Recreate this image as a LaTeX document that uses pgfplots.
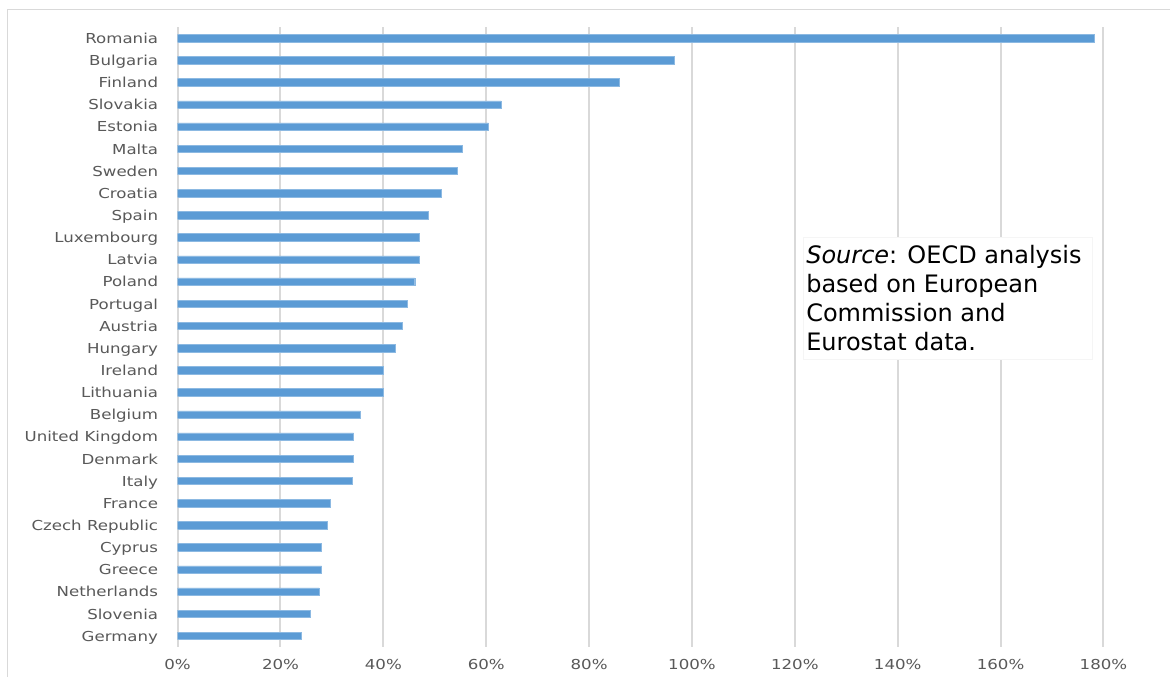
\documentclass[border=0pt]{standalone}
\usepackage{fontspec}
\usepackage{pgfplots}
\usepackage{pgfplotstable}
\pgfplotsset{compat=1.18}
\newfontfamily\lab[FakeStretch=1.21]{DejaVu Sans}
\newfontfamily\src{DejaVu Sans}
\definecolor{barblue}{HTML}{5B9BD5}
\definecolor{gridgray}{HTML}{D9D9D9}
\definecolor{txtgray}{HTML}{595959}
\pgfplotstableread{
y v
0 24.1
1 25.7
2 27.5
3 28.0
4 28.0
5 29.0
6 29.7
7 34.0
8 34.2
9 34.2
10 35.5
11 39.9
12 39.9
13 42.3
14 43.6
15 44.6
16 46.1
17 47.0
18 47.0
19 48.7
20 51.2
21 54.4
22 55.3
23 60.4
24 62.9
25 85.9
26 96.6
27 178.2
}\data
\begin{document}
\begin{tikzpicture}
\useasboundingbox (0,0) rectangle (877.5pt,507.75pt);
\fill[white] (0,0) rectangle (877.5pt,507.75pt);
\draw[gridgray, line width=1.1pt] (5.6pt,0) -- (5.6pt,500.6pt) -- (877.5pt,500.6pt);
\begin{axis}[
  at={(133.2pt,22.5pt)}, anchor=south west,
  scale only axis, width=694.4pt, height=465pt,
  xmin=0, xmax=180, ymin=-0.5, ymax=27.5,
  xbar, bar width=5.6pt,
  xtick={0,20,...,180},
  xticklabels={0\%,20\%,40\%,60\%,80\%,100\%,120\%,140\%,160\%,180\%},
  ytick={0,...,27},
  yticklabels={Germany,Slovenia,Netherlands,Greece,Cyprus,Czech Republic,France,Italy,Denmark,United Kingdom,Belgium,Lithuania,Ireland,Hungary,Austria,Portugal,Poland,Latvia,Luxembourg,Spain,Croatia,Sweden,Malta,Estonia,Slovakia,Finland,Bulgaria,Romania},
  xmajorgrids, major grid style={gridgray, line width=1.5pt},
  axis line style={draw=none}, tick style={draw=none},
  ticklabel style={font=\lab\fontsize{10.3}{12}\selectfont, text=txtgray},
  xticklabel style={anchor=base, inner sep=0pt, yshift=-17.25pt},
  yticklabel style={anchor=base east, inner sep=0pt, xshift=-10.2pt, yshift=-4.0pt},
]
\addplot[fill=barblue, draw=barblue!70!white, line width=0.3pt] table[x=v, y=y] {\data};
\end{axis}
\filldraw[fill=white, draw=gray!8, line width=0.5pt] (602.25pt,238.5pt) rectangle (819pt,330pt);
\node[anchor=north west, inner sep=0pt, align=left, font=\src\fontsize{18}{21.8}\selectfont, text=black] at (604.5pt,324pt)
  {\textit{Source}: OECD analysis\\based on European\\Commission and\\Eurostat data.};
\end{tikzpicture}
\end{document}
